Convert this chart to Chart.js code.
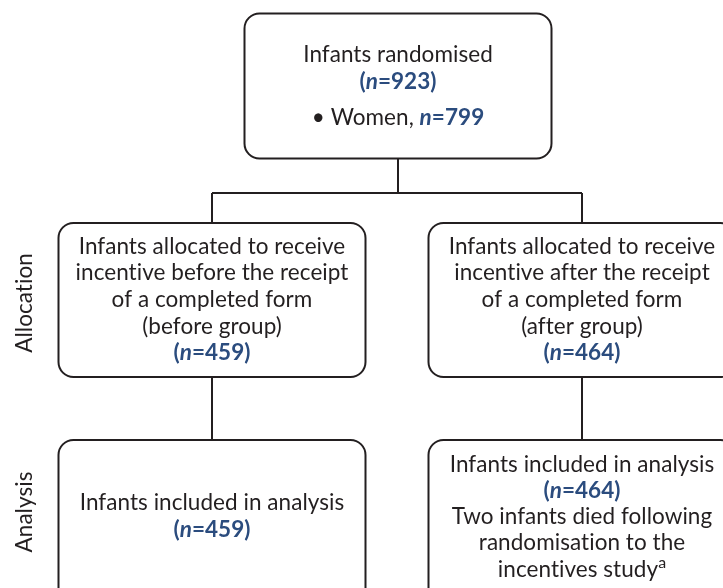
<!doctype html>
<html lang="en">
<head>
  <meta charset="utf-8">
  <title>Flow diagram</title>
  <style>
    html,body{ width:100%; height:100%; margin:0; padding:0; overflow:hidden; background:#fff; }
    .chart-p{ width:723px; height:588px; position:relative; }
  </style>
</head>
<body>
  <div class='chart-p'>
    <canvas id="chart0"></canvas>
  </div>

  <script src="https://cdn.jsdelivr.net/npm/chart.js@4.4.1/dist/chart.umd.min.js"></script>
  <script>
    // values
    var randomised = 923
    var women = 799
    var groupCounts = [459, 464]        // before, after
    var analysedCounts = [459, 464]
    var groupNames = ['before', 'after']
    var stageLabels = ['Allocation', 'Analysis']
    var deaths = 'Two'

    // helpers for the blue "(n=...)" bits
    function nLabel(v, paren){
      if (paren) return [{t:'(', s:'b'}, {t:'n', s:'bi'}, {t:'=' + v + ')', s:'b'}]
      return [{t:'n', s:'bi'}, {t:'=' + v, s:'b'}]
    }
    function plain(t){ return [{t:t, s:'r'}] }

    var boxes = [
      { // randomised
        cx:398, cy:86, w:307, h:145,
        lines:[ plain('Infants randomised'), nLabel(randomised, true),
                [{t:'\u2022 Women, ', s:'r'}].concat(nLabel(women, false)) ],
        ys:[55, 82, 118]
      },
      {
        cx:212, cy:300, w:307, h:154,
        lines:[ plain('Infants allocated to receive'), plain('incentive ' + groupNames[0] + ' the receipt'),
                plain('of a completed form'), plain('(' + groupNames[0] + ' group)'), nLabel(groupCounts[0], true) ],
        ys:[247, 273, 300, 327, 353]
      },
      {
        cx:582, cy:300, w:307, h:154,
        lines:[ plain('Infants allocated to receive'), plain('incentive ' + groupNames[1] + ' the receipt'),
                plain('of a completed form'), plain('(' + groupNames[1] + ' group)'), nLabel(groupCounts[1], true) ],
        ys:[247, 273, 300, 327, 353]
      },
      {
        cx:212, cy:525, w:307, h:170,
        lines:[ plain('Infants included in analysis'), nLabel(analysedCounts[0], true) ],
        ys:[503, 530]
      },
      {
        cx:582, cy:525, w:307, h:170,
        lines:[ plain('Infants included in analysis'), nLabel(analysedCounts[1], true),
                plain(deaths + ' infants died following'), plain('randomisation to the'),
                [{t:'incentives study', s:'r'}, {t:'a', s:'sup'}] ],
        ys:[465, 491, 517, 543, 570]
      }
    ]

    var connectors = [
      [[398,159],[398,193]],
      [[212,193],[582,193]],
      [[212,193],[212,223]],
      [[582,193],[582,223]],
      [[212,377],[212,440]],
      [[582,377],[582,440]]
    ]
    var stagePos = [[25,303],[25,512]]

    var ink = '#231f20'
    var blue = '#2b4c7e'
    var fonts = {
      r: '22.5px Lato', b: 'bold 22.5px Lato', bi: 'italic bold 22.5px Lato', sup: '16px Lato'
    }

    function roundRect(ctx, x, y, w, h, r){
      ctx.beginPath()
      ctx.moveTo(x + r, y)
      ctx.arcTo(x + w, y, x + w, y + h, r)
      ctx.arcTo(x + w, y + h, x, y + h, r)
      ctx.arcTo(x, y + h, x, y, r)
      ctx.arcTo(x, y, x + w, y, r)
      ctx.closePath()
    }

    var flowPlugin = {
      id: 'flow',
      afterDraw: function(chart){
        var ctx = chart.ctx
        var xs = chart.scales.x, ys = chart.scales.y
        var X = function(v){ return xs.getPixelForValue(v) }
        var Y = function(v){ return ys.getPixelForValue(v) }
        ctx.save()
        // tiny spacing switches off Lato's "ti" ligature, like the original
        if ('letterSpacing' in ctx) ctx.letterSpacing = '0.05px'
        ctx.strokeStyle = ink
        ctx.lineWidth = 2
        connectors.forEach(function(c){
          ctx.beginPath()
          ctx.moveTo(X(c[0][0]), Y(c[0][1]))
          ctx.lineTo(X(c[1][0]), Y(c[1][1]))
          ctx.stroke()
        })
        boxes.forEach(function(b){
          var x0 = X(b.cx - b.w / 2), x1 = X(b.cx + b.w / 2)
          var y0 = Y(b.cy - b.h / 2), y1 = Y(b.cy + b.h / 2)
          roundRect(ctx, x0, y0, x1 - x0, y1 - y0, 15)
          ctx.fillStyle = '#fff'
          ctx.fill()
          ctx.stroke()
          ctx.textBaseline = 'middle'
          ctx.textAlign = 'left'
          b.lines.forEach(function(line, i){
            var total = 0
            line.forEach(function(seg){ ctx.font = fonts[seg.s]; total += ctx.measureText(seg.t).width })
            var x = X(b.cx) - total / 2
            var y = Y(b.ys[i])
            line.forEach(function(seg){
              ctx.font = fonts[seg.s]
              ctx.fillStyle = (seg.s == 'b' || seg.s == 'bi') ? blue : ink
              ctx.fillText(seg.t, x, seg.s == 'sup' ? y - 7 : y)
              x += ctx.measureText(seg.t).width
            })
          })
        })
        ctx.font = fonts.r
        ctx.fillStyle = ink
        ctx.textAlign = 'center'
        stageLabels.forEach(function(lbl, i){
          ctx.save()
          ctx.translate(X(stagePos[i][0]), Y(stagePos[i][1]))
          ctx.rotate(-Math.PI / 2)
          ctx.fillText(lbl, 0, 0)
          ctx.restore()
        })
        ctx.restore()
      }
    }

    function drawChart(){
      var ctx = document.getElementById('chart0').getContext('2d')
      new Chart(ctx, {
        type: 'scatter',
        data: { datasets: [{ data: [] }] },
        options: {
          responsive: true,
          maintainAspectRatio: false,
          animation: false,
          layout: { padding: 0 },
          plugins: { legend: { display: false }, tooltip: { enabled: false } },
          scales: {
            x: { type: 'linear', min: 0, max: 723, display: false },
            y: { type: 'linear', min: 0, max: 588, reverse: true, display: false }
          }
        },
        plugins: [flowPlugin]
      })
    }

    if (document.fonts && document.fonts.load){
      Promise.all([document.fonts.load('22.5px Lato'), document.fonts.load('bold 22.5px Lato'), document.fonts.load('italic bold 22.5px Lato')])
        .then(drawChart, drawChart)
    } else drawChart()
  </script>
</body>
</html>
